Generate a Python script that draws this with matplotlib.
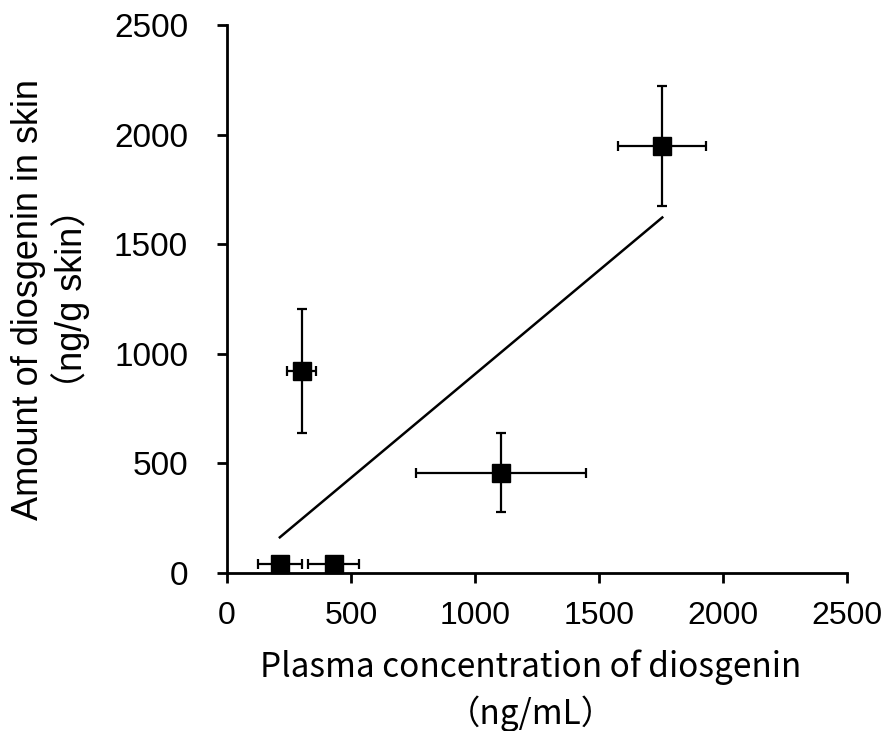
import numpy as np
import matplotlib
matplotlib.use("Agg")
import matplotlib.pyplot as plt

#-------------------------------------------------------------
# plasma vs skin diosgenin (mean +/- SD)
#-------------------------------------------------------------
plasma_mean = [213, 430, 301, 1106, 1755]
plasma_sd = [88, 103, 58, 343, 178]
skin_mean = [40, 40, 921, 458, 1948]
skin_sd = [0, 0, 284, 180, 275]

x_ticks = [0, 500, 1000, 1500, 2000, 2500]
y_ticks = [0, 500, 1000, 1500, 2000, 2500]

fig = plt.figure(figsize=(8.84, 7.31), dpi=100)
ax = fig.add_axes([0.2568, 0.2161, 0.7014, 0.7497])

# least squares trend line over the observed plasma range
k, b = np.polyfit(plasma_mean, skin_mean, 1)
xs = np.array([min(plasma_mean), max(plasma_mean)])
ax.plot(xs, k * xs + b, color="black", linewidth=1.8, zorder=2)

ax.errorbar(plasma_mean, skin_mean, xerr=plasma_sd, yerr=skin_sd,
            fmt="s", color="black", markersize=12.5, ecolor="black",
            elinewidth=1.6, capsize=3.5, capthick=1.6, zorder=3,
            clip_on=False)

ax.set_xlim(0, 2500)
ax.set_ylim(0, 2500)
ax.set_xticks(x_ticks)
ax.set_yticks(y_ticks)
ax.spines["top"].set_visible(False)
ax.spines["right"].set_visible(False)
ax.spines["left"].set_linewidth(2)
ax.spines["bottom"].set_linewidth(2)
ax.tick_params(direction="out", length=7, width=2)

for t in ax.get_xticklabels():
    t.set_fontfamily(["Liberation Sans", "DejaVu Sans"])
    t.set_fontsize(23)
for t in ax.get_yticklabels():
    t.set_fontfamily(["Liberation Sans", "DejaVu Sans"])
    t.set_fontsize(24)
ax.tick_params(axis="x", pad=13)
ax.tick_params(axis="y", pad=21)

ax.set_xlabel("Plasma concentration of diosgenin\n（ng/mL）",
              family=["Noto Sans CJK JP", "DejaVu Sans"], fontsize=24,
              linespacing=1.35)
ax.xaxis.set_label_coords(0.49, -0.14)
ax.set_ylabel("Amount of diosgenin in skin\n（ng/g skin）",
              family=["Liberation Sans", "Noto Sans CJK JP"], fontsize=26,
              linespacing=1.15)
ax.yaxis.set_label_coords(-0.221, 0.5)

plt.savefig("out.png", dpi=100)
